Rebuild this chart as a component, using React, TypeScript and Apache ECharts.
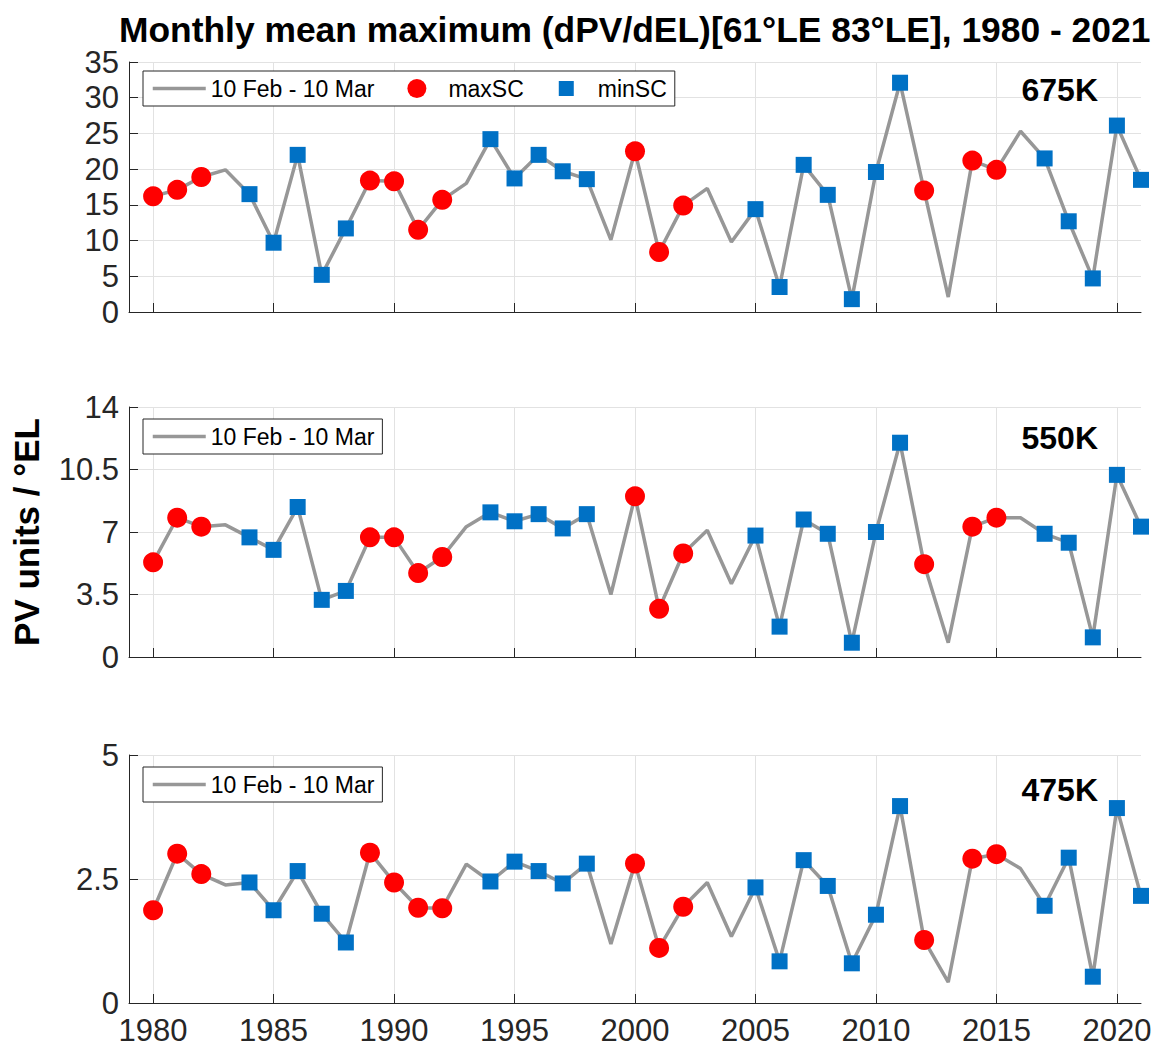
import React, { useEffect, useRef } from "react";
import * as echarts from "echarts";

const FONT = "'Liberation Sans', Arial, Helvetica, sans-serif";

const titleText = "Monthly mean maximum (dPV/dEL)[61°LE 83°LE], 1980 - 2021";
const lineName = "10 Feb - 10 Mar";
const maxName = "maxSC";
const minName = "minSC";
const yAxisTitle = "PV units / °EL";

const years = [
  1980, 1981, 1982, 1983, 1984, 1985, 1986, 1987, 1988, 1989,
  1990, 1991, 1992, 1993, 1994, 1995, 1996, 1997, 1998, 1999,
  2000, 2001, 2002, 2003, 2004, 2005, 2006, 2007, 2008, 2009,
  2010, 2011, 2012, 2013, 2014, 2015, 2016, 2017, 2018, 2019,
  2020, 2021,
];

// winter classification per year: "max" = maxSC, "min" = minSC, "" = neither
const scType = [
  "max", "max", "max", "", "min", "min", "min", "min", "min", "max",
  "max", "max", "max", "", "min", "min", "min", "min", "min", "",
  "max", "max", "max", "", "", "min", "min", "min", "min", "min",
  "min", "min", "max", "", "max", "max", "", "min", "min", "min",
  "min", "min",
];

const v675 = [
  16.2, 17.1, 18.9, 19.9, 16.5, 9.7, 22.0, 5.2, 11.7, 18.4,
  18.3, 11.5, 15.7, 18.0, 24.2, 18.7, 22.0, 19.7, 18.6, 10.1,
  22.5, 8.4, 14.9, 17.3, 9.8, 14.4, 3.5, 20.6, 16.4, 1.8,
  19.6, 32.1, 17.0, 2.1, 21.2, 19.9, 25.3, 21.5, 12.7, 4.7,
  26.1, 18.5,
];

const v550 = [
  5.3, 7.8, 7.3, 7.4, 6.7, 6.0, 8.4, 3.2, 3.7, 6.7,
  6.7, 4.7, 5.6, 7.3, 8.1, 7.6, 8.0, 7.2, 8.0, 3.5,
  9.0, 2.7, 5.8, 7.1, 4.1, 6.8, 1.7, 7.7, 6.9, 0.8,
  7.0, 12.0, 5.2, 0.8, 7.3, 7.8, 7.8, 6.9, 6.4, 1.1,
  10.2, 7.3,
];

const v475 = [
  1.87, 3.01, 2.6, 2.38, 2.43, 1.87, 2.66, 1.8, 1.22, 3.03,
  2.43, 1.92, 1.91, 2.8, 2.45, 2.85, 2.66, 2.41, 2.81, 1.19,
  2.81, 1.11, 1.94, 2.43, 1.34, 2.33, 0.84, 2.88, 2.36, 0.8,
  1.78, 3.97, 1.27, 0.42, 2.91, 3.0, 2.71, 1.96, 2.93, 0.53,
  3.93, 2.16,
];

const panelLabels = ["675K", "550K", "475K"];
const panelValues = [v675, v550, v475];
const yMax = [35, 14, 5];
const yStep = [5, 3.5, 2.5];
const xTicks = [1980, 1985, 1990, 1995, 2000, 2005, 2010, 2015, 2020];

// layout
const gridTops = [62, 407, 755];
const gridHeights = [250, 250, 248];
const legendTops = [71, 419, 767];
const labelY = [90, 438, 790];

const AXIS_COLOR = "#262626";
const GRID_COLOR = "#e2e2e2";
const LINE_COLOR = "#979797";

export default function App() {
  const ref = useRef<HTMLDivElement>(null);

  useEffect(() => {
    document.body.style.margin = "0";
    if (!ref.current) return;
    const chart = echarts.init(ref.current, undefined, { renderer: "svg" });

    const grids = gridTops.map((t, i) => ({
      left: 129,
      right: 14,
      top: t,
      height: gridHeights[i],
    }));

    const xAxes = gridTops.map((_, i) => ({
      gridIndex: i,
      type: "value",
      min: 1979,
      max: 2021,
      axisLine: { show: true, onZero: false, lineStyle: { color: AXIS_COLOR, width: 1 } },
      axisTick: {
        show: true,
        inside: true,
        length: 9,
        customValues: xTicks,
        lineStyle: { color: AXIS_COLOR, width: 1 },
      },
      axisLabel: {
        show: i === 2,
        customValues: xTicks,
        formatter: (v: number) => String(v),
        fontSize: 31,
        lineHeight: 30,
        color: AXIS_COLOR,
        fontFamily: FONT,
        margin: 12,
      },
      splitLine: { show: true, lineStyle: { color: GRID_COLOR, width: 1 } },
    }));

    const yAxes = gridTops.map((_, i) => ({
      gridIndex: i,
      type: "value",
      min: 0,
      max: yMax[i],
      interval: yStep[i],
      name: i === 1 ? yAxisTitle : "",
      nameLocation: "middle",
      nameGap: 85,
      nameTextStyle: {
        fontSize: 35,
        fontWeight: "bold",
        color: "#000",
        fontFamily: FONT,
      },
      axisLine: { show: true, onZero: false, lineStyle: { color: AXIS_COLOR, width: 1 } },
      axisTick: { show: true, inside: true, length: 9, lineStyle: { color: AXIS_COLOR, width: 1 } },
      axisLabel: {
        fontSize: 31,
        color: AXIS_COLOR,
        fontFamily: FONT,
        margin: 10,
        formatter: (v: number) => String(v),
      },
      splitLine: { show: true, lineStyle: { color: GRID_COLOR, width: 1 } },
    }));

    const series: any[] = [];
    panelValues.forEach((vals, i) => {
      series.push({
        type: "line",
        name: lineName,
        xAxisIndex: i,
        yAxisIndex: i,
        data: years.map((y, k) => [y, vals[k]]),
        symbol: "none",
        lineStyle: { color: LINE_COLOR, width: 3.5 },
        itemStyle: { color: LINE_COLOR },
        z: 2,
      });
      series.push({
        type: "scatter",
        name: maxName,
        xAxisIndex: i,
        yAxisIndex: i,
        data: years
          .map((y, k) => [y, vals[k], scType[k]])
          .filter((d) => d[2] === "max")
          .map((d) => [d[0], d[1]]),
        symbol: "circle",
        symbolSize: 20,
        itemStyle: { color: "#ff0000", opacity: 1 },
        z: 3,
      });
      series.push({
        type: "scatter",
        name: minName,
        xAxisIndex: i,
        yAxisIndex: i,
        data: years
          .map((y, k) => [y, vals[k], scType[k]])
          .filter((d) => d[2] === "min")
          .map((d) => [d[0], d[1]]),
        symbol: "rect",
        symbolSize: 16,
        itemStyle: { color: "#0071c5", opacity: 1 },
        z: 3,
      });
    });

    const lineLegendItem = {
      name: lineName,
      itemStyle: { color: "rgba(0,0,0,0)", borderWidth: 0 },
      lineStyle: { color: LINE_COLOR, width: 3.5 },
    };
    const circleLegendItem = {
      name: maxName,
      icon:
        "path://M0,0 L0,0 M53,19 L53,19 M17,9.5 A9.5,9.5 0 1 1 36,9.5 A9.5,9.5 0 1 1 17,9.5 Z",
    };
    const squareLegendItem = {
      name: minName,
      icon: "path://M19,2 L34,2 L34,17 L19,17 Z M0,0 L0,0 M53,19 L53,19",
    };
    const legendCommon = {
      left: 143,
      orient: "horizontal",
      itemWidth: 53,
      itemHeight: 19,
      itemGap: 16,
      padding: [6, 8, 6, 8],
      backgroundColor: "#ffffff",
      borderColor: AXIS_COLOR,
      borderWidth: 1,
      borderRadius: 0,
      selectedMode: false,
      textStyle: { fontSize: 23, color: "#000", fontFamily: FONT },
    };
    const legends = [
      {
        ...legendCommon,
        top: legendTops[0],
        data: [lineLegendItem, circleLegendItem, squareLegendItem],
      },
      { ...legendCommon, top: legendTops[1], data: [lineLegendItem] },
      { ...legendCommon, top: legendTops[2], data: [lineLegendItem] },
    ];

    const graphics = panelLabels.map((t, i) => ({
      type: "text",
      x: 1098,
      y: labelY[i],
      style: {
        text: t,
        fill: "#000",
        font: `bold 32px ${FONT}`,
        align: "right",
        verticalAlign: "middle",
      },
      z: 10,
    }));

    chart.setOption({
      animation: false,
      backgroundColor: "#ffffff",
      title: {
        text: titleText,
        left: 119,
        top: 12,
        padding: 0,
        textStyle: { fontSize: 35.4, fontWeight: "bold", color: "#000", fontFamily: FONT },
      },
      grid: grids,
      xAxis: xAxes,
      yAxis: yAxes,
      legend: legends,
      series,
      graphic: graphics,
    });

    return () => chart.dispose();
  }, []);

  return <div ref={ref} style={{ width: 1155, height: 1046 }} />;
}
